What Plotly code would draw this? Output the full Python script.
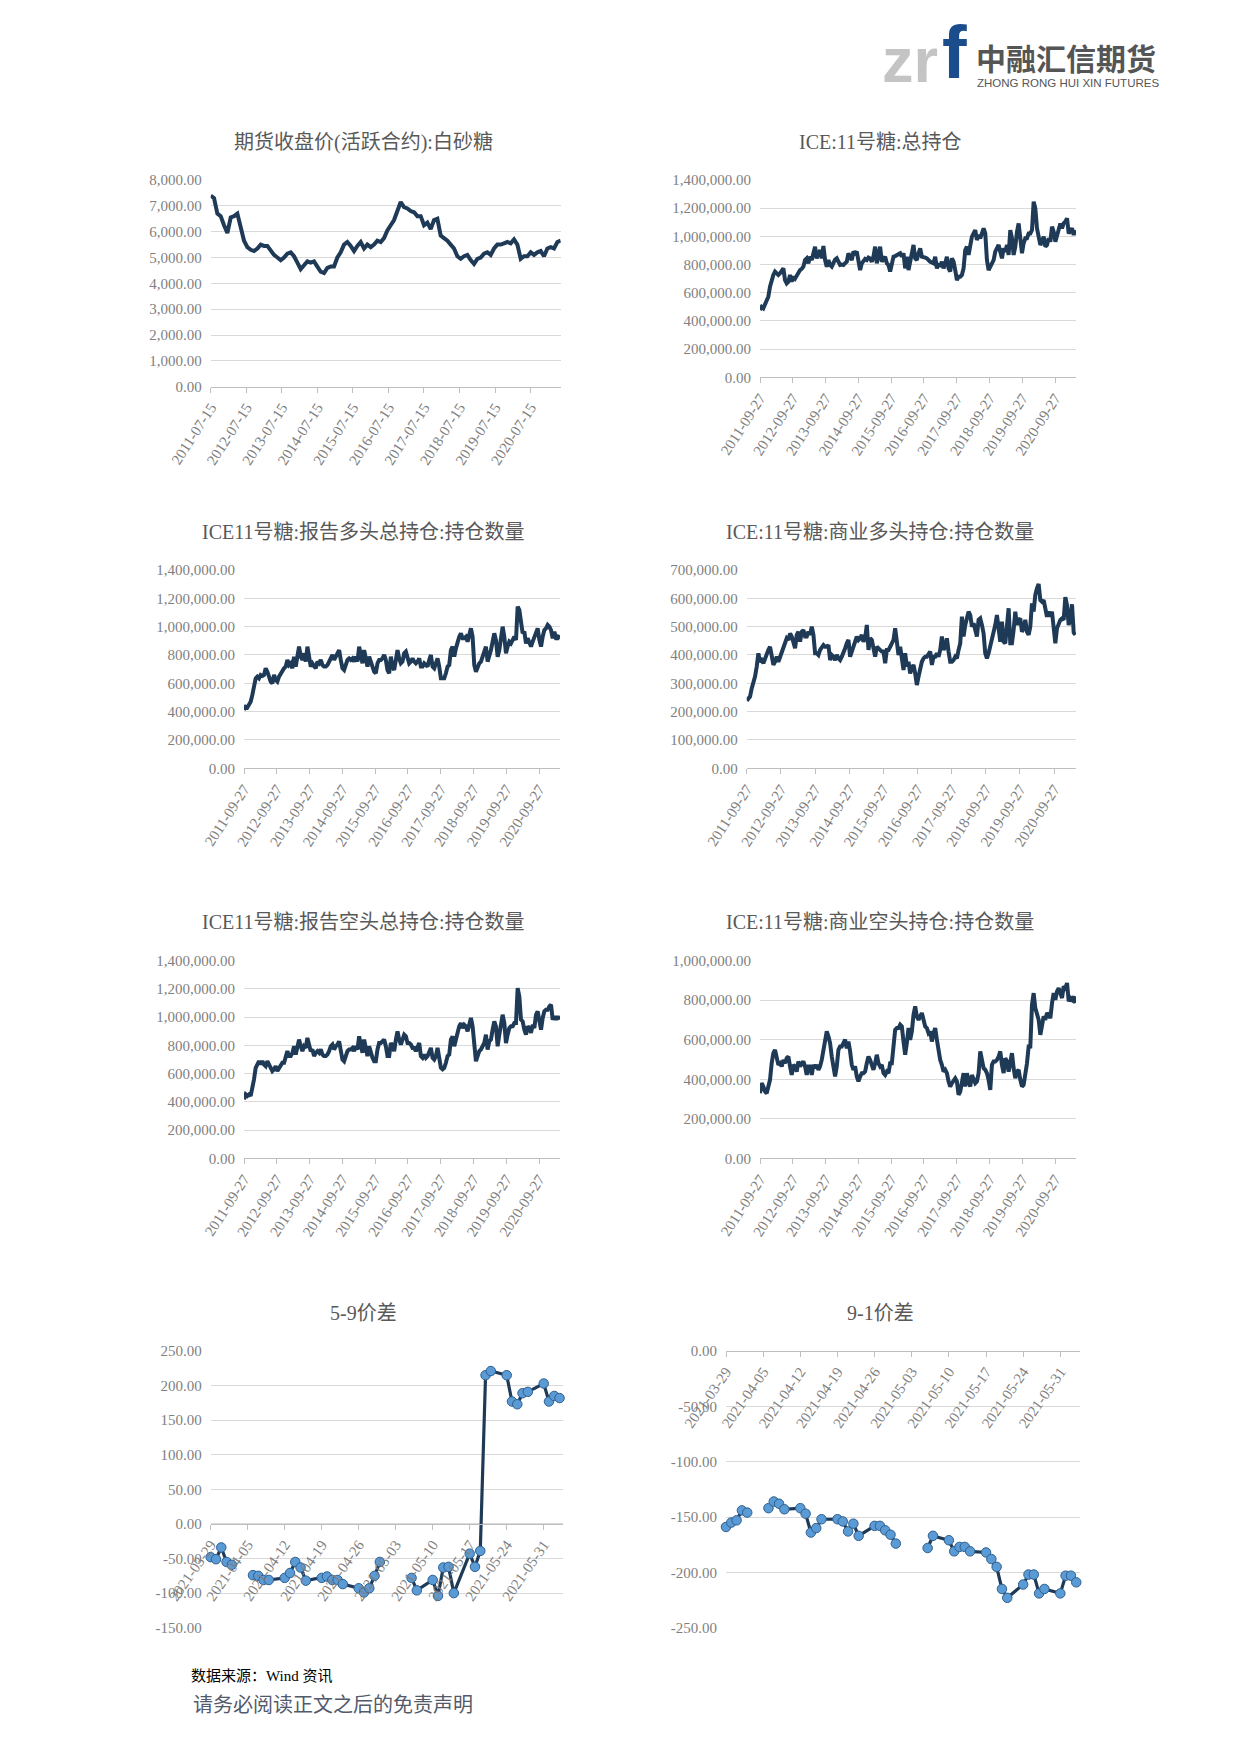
import numpy as np
import pandas as pd
import plotly.graph_objects as go

W, H = 1240, 1753

# ---------------- data ----------------
TITLES = [
    "期货收盘价(活跃合约):白砂糖",
    "ICE:11号糖:总持仓",
    "ICE11号糖:报告多头总持仓:持仓数量",
    "ICE:11号糖:商业多头持仓:持仓数量",
    "ICE11号糖:报告空头总持仓:持仓数量",
    "ICE:11号糖:商业空头持仓:持仓数量",
    "5-9价差",
    "9-1价差",
]

# 白砂糖 active contract close (yuan/t), 2011-07-15 .. 2021-05-20
C1_PRICE = [7400, 7300, 6700, 6600, 6250, 5950, 6550, 6600, 6700, 6200, 5650, 5400, 5300, 5250, 5350, 5500,
            5450, 5450, 5250, 5100, 5000, 4900, 5000, 5150, 5200, 5050, 4800, 4550, 4700, 4850, 4800, 4850,
            4650, 4450, 4400, 4600, 4650, 4650, 5000, 5200, 5500, 5600, 5450, 5250, 5450, 5600, 5350, 5500,
            5400, 5500, 5650, 5600, 5750, 6050, 6250, 6450, 6800, 7150, 6950, 6900, 6800, 6750, 6600, 6600,
            6250, 6350, 6100, 6450, 6500, 5850, 5750, 5650, 5500, 5350, 5050, 4950, 5050, 5100, 4900, 4750,
            4950, 5000, 5150, 5200, 5100, 5350, 5500, 5500, 5550, 5600, 5550, 5700, 5500, 4950, 5050, 5050,
            5200, 5100, 5200, 5250, 5050, 5350, 5400, 5350, 5600, 5650]
C1_START, C1_END = "2011-07-15", "2021-05-20"
C1_TICKS = [f"{y}-07-15" for y in range(2011, 2021)]

# ICE weekly positions (thousand contracts), 2011-09-27 .. 2021-05-11
W_START, W_END = "2011-09-27", "2021-05-11"
W_TICKS = [f"{y}-09-27" for y in range(2011, 2021)]

C2_TOTAL_OI = [478, 500, 490, 513, 537, 572, 643, 702, 726, 750, 738, 726, 738, 761, 773, 690, 667, 679, 726, 679,
               714, 700, 726, 740, 761, 770, 785, 832, 844, 809, 856, 832, 880, 927, 844, 870, 903, 844, 932, 832,
               785, 832, 797, 785, 820, 835, 844, 820, 797, 800, 797, 810, 820, 880, 856, 832, 891, 880, 891, 820,
               761, 809, 832, 840, 832, 850, 844, 820, 856, 927, 809, 891, 927, 820, 844, 856, 809, 797, 750, 809,
               856, 860, 868, 870, 880, 856, 880, 773, 856, 761, 832, 880, 939, 844, 832, 880, 915, 856, 856, 850,
               844, 830, 820, 815, 809, 856, 773, 809, 785, 820, 773, 809, 856, 773, 750, 844, 820, 761, 690, 714,
               714, 726, 773, 903, 927, 868, 939, 998, 1021, 1045, 974, 1010, 986, 1033, 1057, 1021, 832, 761, 785, 820,
               832, 891, 915, 939, 891, 844, 915, 891, 939, 868, 1045, 986, 868, 927, 1033, 1092, 986, 880, 951, 986,
               986, 1021, 1021, 1045, 1246, 1199, 1057, 1010, 939, 962, 998, 927, 939, 986, 962, 1069, 1033, 962, 1010, 1069,
               1092, 1057, 1092, 1104, 1128, 1021, 1045, 1057, 1010, 1045]

C3_REPORT_LONG = [412, 435, 430, 447, 470, 518, 576, 635, 647, 635, 659, 652, 659, 706, 682, 635, 612, 600, 659, 624,
                  612, 647, 671, 682, 706, 718, 765, 729, 741, 706, 788, 718, 788, 859, 788, 765, 812, 753, 859, 788,
                  718, 741, 718, 706, 753, 741, 765, 729, 718, 718, 729, 753, 788, 800, 765, 788, 812, 835, 765, 706,
                  694, 741, 765, 776, 765, 776, 753, 788, 753, 859, 776, 741, 835, 776, 718, 788, 741, 718, 682, 671,
                  741, 765, 765, 776, 800, 765, 694, 671, 788, 718, 694, 765, 835, 776, 741, 753, 812, 824, 788, 741,
                  753, 776, 753, 741, 753, 776, 718, 718, 741, 729, 718, 765, 800, 718, 706, 741, 776, 718, 635, 635,
                  635, 671, 718, 729, 835, 859, 788, 847, 906, 929, 953, 918, 918, 929, 894, 941, 988, 929, 729, 682,
                  718, 741, 753, 788, 812, 859, 753, 788, 835, 894, 953, 906, 788, 835, 918, 1000, 929, 812, 859, 894,
                  882, 906, 929, 906, 1141, 1118, 1024, 953, 965, 882, 918, 894, 859, 894, 929, 953, 988, 906, 859, 929,
                  976, 988, 1012, 1000, 976, 918, 965, 918, 918, 941]

C4_COMM_LONG = [239, 247, 253, 282, 300, 324, 359, 406, 376, 382, 371, 388, 406, 418, 429, 400, 365, 376, 394, 376,
                394, 412, 429, 441, 459, 453, 476, 465, 447, 424, 471, 482, 447, 482, 488, 465, 465, 482, 471, 500,
                471, 406, 406, 400, 418, 429, 435, 429, 429, 435, 382, 400, 394, 382, 400, 388, 382, 394, 406, 424,
                441, 453, 394, 412, 424, 447, 465, 453, 459, 471, 447, 459, 506, 418, 459, 453, 424, 394, 429, 424,
                418, 412, 412, 371, 418, 418, 429, 441, 453, 494, 441, 400, 429, 394, 347, 406, 359, 376, 335, 353,
                365, 335, 294, 324, 359, 376, 388, 394, 394, 406, 412, 365, 394, 394, 406, 394, 418, 465, 418, 429,
                459, 412, 376, 376, 382, 394, 388, 418, 441, 535, 465, 506, 524, 553, 541, 500, 512, 488, 465, 524,
                529, 506, 476, 406, 388, 406, 429, 447, 471, 506, 541, 488, 447, 518, 447, 441, 524, 565, 441, 441,
                488, 553, 506, 524, 529, 482, 494, 524, 482, 471, 500, 582, 553, 612, 635, 651, 594, 588, 594, 559,
                535, 553, 535, 553, 494, 441, 494, 512, 524, 529, 524, 604, 576, 506, 529, 579, 479, 471]

C5_REPORT_SHORT = [418, 453, 442, 453, 442, 489, 559, 641, 665, 688, 665, 688, 665, 653, 688, 665, 630, 618, 630, 653,
                   618, 641, 665, 677, 677, 712, 759, 724, 724, 747, 794, 735, 794, 841, 794, 759, 794, 782, 853, 806,
                   759, 771, 724, 747, 759, 747, 771, 735, 724, 724, 735, 759, 794, 806, 771, 794, 806, 829, 771, 700,
                   688, 735, 759, 771, 771, 782, 759, 794, 771, 864, 794, 747, 841, 782, 724, 794, 747, 712, 688, 688,
                   771, 817, 817, 829, 841, 794, 724, 724, 817, 794, 759, 841, 900, 841, 806, 841, 876, 864, 817, 817,
                   806, 782, 782, 759, 794, 817, 724, 712, 735, 712, 724, 747, 782, 712, 700, 724, 782, 712, 641, 630,
                   641, 677, 724, 735, 841, 864, 794, 841, 900, 935, 958, 923, 946, 935, 900, 958, 994, 935, 759, 688,
                   724, 759, 771, 794, 817, 876, 771, 829, 841, 911, 970, 935, 794, 876, 935, 1017, 958, 817, 876, 923,
                   935, 935, 958, 958, 1205, 1146, 982, 970, 911, 876, 935, 923, 888, 946, 923, 1017, 1041, 958, 911, 994,
                   1041, 1052, 1052, 1076, 1088, 982, 1005, 982, 1005, 982]

C6_COMM_SHORT = [329, 380, 363, 338, 329, 355, 397, 481, 532, 549, 515, 473, 481, 465, 498, 481, 507, 515, 465, 422,
                 473, 465, 439, 490, 465, 481, 490, 465, 422, 465, 465, 422, 473, 456, 473, 448, 465, 498, 557, 600,
                 642, 617, 583, 515, 456, 414, 465, 549, 566, 566, 583, 600, 557, 591, 541, 473, 448, 465, 414, 389,
                 414, 431, 431, 439, 481, 515, 498, 465, 448, 481, 524, 481, 465, 473, 431, 422, 439, 431, 481, 481,
                 566, 650, 659, 659, 676, 667, 591, 524, 583, 659, 600, 642, 726, 769, 718, 701, 718, 735, 701, 667,
                 659, 633, 642, 591, 633, 659, 600, 532, 498, 473, 439, 448, 431, 389, 363, 380, 397, 405, 389, 321,
                 338, 397, 431, 363, 431, 389, 363, 422, 405, 380, 389, 431, 541, 481, 456, 448, 431, 397, 346, 473,
                 490, 490, 498, 515, 541, 473, 431, 507, 490, 439, 481, 532, 456, 405, 439, 448, 397, 363, 372, 414,
                 481, 566, 566, 777, 836, 760, 726, 701, 625, 667, 718, 701, 735, 726, 709, 785, 836, 802, 845, 861,
                 836, 811, 870, 861, 887, 794, 811, 802, 819, 785]

UNIT = 1000  # contracts per thousand

# Daily spreads (yuan/t); None = exchange holiday (no quote)
SPREAD_DATES = ["2021-03-29", "2021-03-30", "2021-03-31", "2021-04-01", "2021-04-02", "2021-04-05",
                "2021-04-06", "2021-04-07", "2021-04-08", "2021-04-09",
                "2021-04-12", "2021-04-13", "2021-04-14", "2021-04-15", "2021-04-16",
                "2021-04-19", "2021-04-20", "2021-04-21", "2021-04-22", "2021-04-23",
                "2021-04-26", "2021-04-27", "2021-04-28", "2021-04-29", "2021-04-30",
                "2021-05-03", "2021-05-04", "2021-05-05", "2021-05-06", "2021-05-07",
                "2021-05-10", "2021-05-11", "2021-05-12", "2021-05-13", "2021-05-14",
                "2021-05-17", "2021-05-18", "2021-05-19", "2021-05-20", "2021-05-21",
                "2021-05-24", "2021-05-25", "2021-05-26", "2021-05-27", "2021-05-28",
                "2021-05-31", "2021-06-01", "2021-06-02", "2021-06-03"]
SPREAD_5_9 = [-48, -51, -34, -55, -59, None,
              -74, -75, -81, -81,
              -78, -71, -55, -63, -82,
              -78, -76, -81, -81, -87,
              -93, -99, -93, -75, -55,
              None, None, None, -78, -96,
              -81, -104, -63, -62, -100,
              -43, -62, -39, 215, 221,
              215, 177, 173, 189, 191,
              203, 177, 185, 182]
SPREAD_9_1 = [-159, -155, -153, -144, -146, None,
              -142, -136, -138, -143,
              -142, -147, -164, -160, -152,
              -152, -154, -163, -156, -167,
              -158, -158, -162, -166, -174,
              None, None, None, -178, -167,
              -171, -181, -177, -177, -181,
              -182, -188, -195, -215, -223,
              -211, -202, -202, -219, -215,
              -219, -203, -203, -209]
SPREAD_TICKS = ["2021-03-29", "2021-04-05", "2021-04-12", "2021-04-19", "2021-04-26",
                "2021-05-03", "2021-05-10", "2021-05-17", "2021-05-24", "2021-05-31"]
SPREAD_RANGE = ["2021-03-29", "2021-06-03 17:00"]

# ---------------- styling ----------------
LINE = "#1F3A56"
MARK_FILL = "#5B9BD5"
MARK_EDGE = "#2E5F8F"
GRID = "#D9D9D9"
AXIS = "#BFBFBF"
TICK_TXT = "#7F7F7F"
TITLE_TXT = "#595959"
FONT = "Liberation Serif, Noto Sans CJK SC, serif"


def wdates(vals):
    return pd.date_range(W_START, W_END, periods=len(vals))


panels = [
    dict(x=pd.date_range(C1_START, C1_END, periods=len(C1_PRICE)), y=C1_PRICE,
         xd=(210.7, 560.7), yd=(180, 386.7), yr=(0, 8000), dy=1000,
         xt=C1_TICKS, xr=[C1_START, C1_END], tc=(363, 142), angle=-57, spread=False),
    dict(x=wdates(C2_TOTAL_OI), y=[v * UNIT for v in C2_TOTAL_OI],
         xd=(760, 1076), yd=(180, 377.3), yr=(0, 1400000), dy=200000,
         xt=W_TICKS, xr=[W_START, "2021-05-18"], tc=(880, 142), angle=-57, spread=False),
    dict(x=wdates(C3_REPORT_LONG), y=[v * UNIT for v in C3_REPORT_LONG],
         xd=(244, 560), yd=(570, 768.3), yr=(0, 1400000), dy=200000,
         xt=W_TICKS, xr=[W_START, "2021-05-18"], tc=(363, 532), angle=-57, spread=False),
    dict(x=wdates(C4_COMM_LONG), y=[v * UNIT for v in C4_COMM_LONG],
         xd=(746.7, 1076), yd=(570, 768.3), yr=(0, 700000), dy=100000,
         xt=W_TICKS, xr=[W_START, "2021-05-18"], tc=(880, 532), angle=-57, spread=False),
    dict(x=wdates(C5_REPORT_SHORT), y=[v * UNIT for v in C5_REPORT_SHORT],
         xd=(244, 560), yd=(960.7, 1158.3), yr=(0, 1400000), dy=200000,
         xt=W_TICKS, xr=[W_START, "2021-05-18"], tc=(363, 922), angle=-57, spread=False),
    dict(x=wdates(C6_COMM_SHORT), y=[v * UNIT for v in C6_COMM_SHORT],
         xd=(760, 1076), yd=(960.7, 1158.3), yr=(0, 1000000), dy=200000,
         xt=W_TICKS, xr=[W_START, "2021-05-18"], tc=(880, 922), angle=-57, spread=False),
    dict(x=SPREAD_DATES, y=SPREAD_5_9,
         xd=(210.7, 563.3), yd=(1351, 1627.7), yr=(-150, 250), dy=50,
         xt=SPREAD_TICKS, xr=SPREAD_RANGE, tc=(363, 1313), angle=-55, spread=True),
    dict(x=SPREAD_DATES, y=SPREAD_9_1,
         xd=(726, 1080), yd=(1351, 1627.7), yr=(-250, 0), dy=50,
         xt=SPREAD_TICKS, xr=SPREAD_RANGE, tc=(880, 1313), angle=-55, spread=True),
]

fig = go.Figure()
layout = dict(
    width=W, height=H, margin=dict(l=0, r=0, t=0, b=0, pad=0, autoexpand=False),
    paper_bgcolor="white", plot_bgcolor="white", showlegend=False,
    font=dict(family=FONT, color=TICK_TXT),
)
annotations = []

for i, p in enumerate(panels, start=1):
    if p["spread"]:
        fig.add_trace(go.Scatter(
            x=p["x"], y=p["y"], xaxis=f"x{i}", yaxis=f"y{i}", mode="lines+markers",
            line=dict(color=LINE, width=3.2), connectgaps=False, cliponaxis=False,
            marker=dict(size=9.5, color=MARK_FILL, line=dict(color=MARK_EDGE, width=1)),
            hoverinfo="x+y"))
    else:
        fig.add_trace(go.Scatter(
            x=p["x"], y=p["y"], xaxis=f"x{i}", yaxis=f"y{i}", mode="lines",
            line=dict(color=LINE, width=4), hoverinfo="x+y"))

    ylo, yhi = p["yr"]
    yv = np.arange(ylo, yhi + p["dy"] / 2, p["dy"])
    yd0, yd1 = 1 - p["yd"][1] / H, 1 - p["yd"][0] / H
    layout[f"yaxis{i}"] = dict(
        domain=[yd0, yd1], range=[ylo, yhi], anchor=f"x{i}", automargin=False,
        tickvals=list(yv), ticktext=[f"{v:,.2f}" for v in yv],
        showgrid=True, gridcolor=GRID, gridwidth=1.3, zeroline=False, showline=False,
        ticks="", ticklabelstandoff=8, tickfont=dict(family=FONT, size=15, color=TICK_TXT),
        fixedrange=True)

    xaxis = dict(
        domain=[p["xd"][0] / W, p["xd"][1] / W], range=p["xr"], type="date", automargin=False,
        tickvals=p["xt"], ticktext=p["xt"], tickangle=p["angle"],
        showgrid=False, zeroline=False, showline=True, linecolor=AXIS, linewidth=1.3,
        ticks="outside", ticklen=5, tickcolor=AXIS, tickwidth=1.2,
        tickfont=dict(family=FONT, size=15, color=TICK_TXT), fixedrange=True)
    # category axis crosses the value axis at 0
    frac0 = (0 - ylo) / (yhi - ylo)
    if frac0 > 0:
        xaxis.update(anchor="free", position=yd0 + frac0 * (yd1 - yd0))
    else:
        xaxis.update(anchor=f"y{i}")
    layout[f"xaxis{i}"] = xaxis

    annotations.append(dict(
        text=TITLES[i - 1], x=p["tc"][0] / W, y=1 - p["tc"][1] / H, xref="paper", yref="paper",
        xanchor="center", yanchor="middle", showarrow=False,
        font=dict(family=FONT, size=20, color=TITLE_TXT)))

# logo
annotations += [
    dict(text="<b>zr</b>", x=880 / W, y=1 - 60 / H, xref="paper", yref="paper", xanchor="left",
         yanchor="middle", showarrow=False,
         font=dict(family="Liberation Sans, Arial, sans-serif", size=63, color="#C4C4C4")),
    dict(text="<b>f</b>", x=940 / W, y=1 - 52 / H, xref="paper", yref="paper", xanchor="left",
         yanchor="middle", showarrow=False,
         font=dict(family="Liberation Sans, Arial, sans-serif", size=74, color="#1B4C8C")),
    dict(text="<b>中融汇信期货</b>", x=974 / W, y=1 - 57 / H, xref="paper", yref="paper", xanchor="left",
         yanchor="middle", showarrow=False,
         font=dict(family="Noto Sans CJK SC, sans-serif", size=30, color="#555555")),
    dict(text="ZHONG RONG HUI XIN FUTURES", x=975 / W, y=1 - 83 / H, xref="paper", yref="paper",
         xanchor="left", yanchor="middle", showarrow=False,
         font=dict(family="Liberation Sans, Arial, sans-serif", size=11.5, color="#555555")),
]

# footer
annotations += [
    dict(text="数据来源：Wind 资讯", x=189 / W, y=1 - 1676 / H, xref="paper", yref="paper",
         xanchor="left", yanchor="middle", showarrow=False,
         font=dict(family=FONT, size=15, color="#000000")),
    dict(text="请务必阅读正文之后的免责声明", x=191 / W, y=1 - 1705 / H, xref="paper", yref="paper",
         xanchor="left", yanchor="middle", showarrow=False,
         font=dict(family=FONT, size=20, color="#525A6B")),
]

layout["annotations"] = annotations
fig.update_layout(**layout)
fig.write_html(
    "out.html",
    config={"displayModeBar": False, "staticPlot": False},
    post_script="document.body.style.margin='0';document.body.style.padding='0';"
                "document.documentElement.style.overflow='hidden';",
)
